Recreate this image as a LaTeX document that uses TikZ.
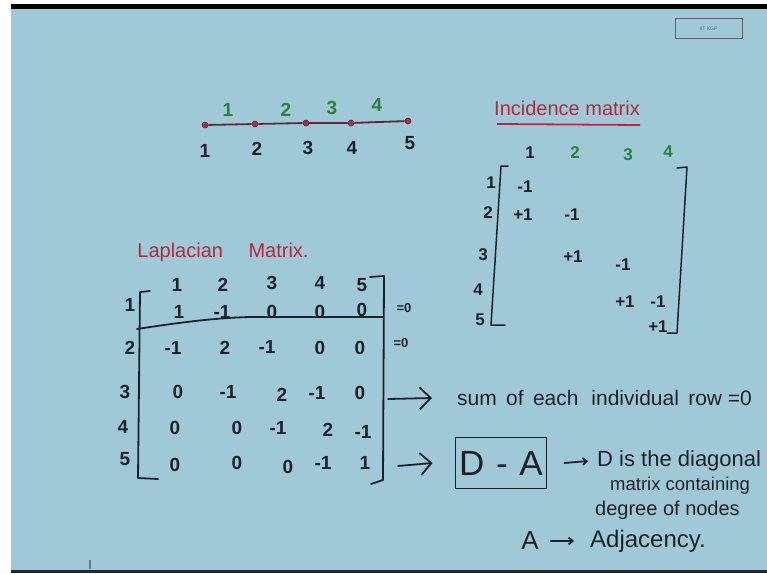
\documentclass[tikz,border=0pt]{standalone}
\usepackage{fontspec}
\setmainfont{Liberation Sans}
\usetikzlibrary{arrows.meta}
\definecolor{bg}{HTML}{A0C9D7}
\definecolor{ink}{HTML}{1A1F2C}
\definecolor{redink}{HTML}{B42A3C}
\definecolor{greenink}{HTML}{2F7F3C}
\definecolor{edgeink}{HTML}{5A2A35}
\begin{document}
\begin{tikzpicture}[x=1pt,y=-1pt,
  lbl/.style={inner sep=0pt,text=ink},
  gnum/.style={lbl,font=\fontsize{19}{19}\selectfont\bfseries},
  gedge/.style={lbl,text=greenink,font=\fontsize{19}{19}\selectfont\bfseries},
  lnum/.style={lbl,font=\fontsize{19}{19}\selectfont\bfseries},
  inum/.style={lbl,font=\fontsize{17}{17}\selectfont\bfseries},
  title/.style={lbl,text=redink,font=\fontsize{20}{20}\selectfont},
  note/.style={lbl},
  dot/.style={circle,fill=redink,draw=edgeink,line width=0.6pt,inner sep=0pt,minimum size=6pt},
  gline/.style={draw=edgeink,line width=1.8pt},
  pen/.style={draw=ink,line width=1.8pt,line cap=round,line join=round},
  bigarrow/.style={pen,-{Straight Barb[length=11pt,width=22pt,line width=1.8pt]}},
  smallarrow/.style={pen,-{Straight Barb[length=4pt,width=7pt,line width=1.8pt]}}]
\useasboundingbox (0,0) rectangle (767,573);
% background and frame
\fill[white] (0,0) rectangle (767,573);
\fill[bg] (11,9) rectangle (767,570);
\fill[black] (11,4) rectangle (767,9);
\fill[black!85] (11,570) rectangle (767,573);
% corner stamp
\node[draw=ink!70,line width=0.8pt,minimum width=67pt,minimum height=20pt,inner sep=0pt,
      text=ink!70,font=\fontsize{5}{6}\selectfont,align=right] (stamp) at (708.5,28) {\\IIT KGP};
% small tick at bottom left
\draw[ink!60,line width=1.2pt] (90,560) -- (90,569);

% ---------- path graph ----------
\node[dot] (v1) at (205,125) {};
\node[dot] (v2) at (255,124) {};
\node[dot] (v3) at (306,123) {};
\node[dot] (v4) at (351,123) {};
\node[dot] (v5) at (408,121) {};
\draw[gline] (v1) -- (v2);
\draw[gline] (v2) -- (v3);
\draw[gline] (v3) -- (v4);
\draw[gline] (v4) -- (v5);
\node[gnum] (n1) at (205,151) {1};
\node[gnum] (n2) at (257,149) {2};
\node[gnum] (n3) at (308,148) {3};
\node[gnum] (n4) at (352,148) {4};
\node[gnum] (n5) at (410,143) {5};
\node[gedge] (e1) at (228,110) {1};
\node[gedge] (e2) at (286,110) {2};
\node[gedge] (e3) at (332,108) {3};
\node[gedge] (e4) at (377,105) {4};

% ---------- incidence matrix ----------
\node[title] (inctitle) at (567,108) {Incidence matrix};
\draw[draw=redink,line width=1.8pt] (497,124) -- (640,125);
\node[inum] (ic1) at (530,153) {1};
\node[inum,text=greenink] (ic2) at (575,153) {2};
\node[inum,text=greenink] (ic3) at (628,155) {3};
\node[inum,text=greenink] (ic4) at (668,152) {4};
\node[inum] (ir1) at (491,183) {1};
\node[inum] (ir2) at (488,213) {2};
\node[inum] (ir3) at (483,255) {3};
\node[inum] (ir4) at (478,290) {4};
\node[inum] (ir5) at (480,320) {5};
\node[inum] (i11) at (525,187) {-1};
\node[inum] (i21) at (523,215) {+1};
\node[inum] (i22) at (572,215) {-1};
\node[inum] (i32) at (573,257) {+1};
\node[inum] (i33) at (623,265) {-1};
\node[inum] (i43) at (625,302) {+1};
\node[inum] (i44) at (658,302) {-1};
\node[inum] (i54) at (658,327) {+1};
\draw[pen,line width=1.5pt] (508,166) -- (501,166) -- (491,325) -- (505,325);
\draw[pen,line width=1.5pt] (677,168) -- (687,167) -- (677,333) -- (667,333);

% ---------- Laplacian matrix ----------
\node[title] (laptitle) at (223,252) {Laplacian \quad Matrix.};
% column headers
\node[lnum] (lc1) at (177,285) {1};
\node[lnum] (lc2) at (223,285) {2};
\node[lnum] (lc3) at (272,283) {3};
\node[lnum] (lc4) at (320,283) {4};
\node[lnum] (lc5) at (362,285) {5};
% row labels
\node[lnum] (lr1) at (130,305) {1};
\node[lnum] (lr2) at (130,348) {2};
\node[lnum] (lr3) at (125,392) {3};
\node[lnum] (lr4) at (123,427) {4};
\node[lnum] (lr5) at (125,459) {5};
% row 1
\node[lnum] (l11) at (179,312) {1};
\node[lnum] (l12) at (222,312) {-1};
\node[lnum] (l13) at (272,312) {0};
\node[lnum] (l14) at (320,312) {0};
\node[lnum] (l15) at (362,310) {0};
% row 2
\node[lnum] (l21) at (173,348) {-1};
\node[lnum] (l22) at (225,348) {2};
\node[lnum] (l23) at (267,347) {-1};
\node[lnum] (l24) at (320,348) {0};
\node[lnum] (l25) at (360,348) {0};
% row 3
\node[lnum] (l31) at (178,392) {0};
\node[lnum] (l32) at (228,392) {-1};
\node[lnum] (l33) at (282,395) {2};
\node[lnum] (l34) at (317,393) {-1};
\node[lnum] (l35) at (360,393) {0};
% row 4
\node[lnum] (l41) at (175,428) {0};
\node[lnum] (l42) at (237,428) {0};
\node[lnum] (l43) at (278,428) {-1};
\node[lnum] (l44) at (328,430) {2};
\node[lnum] (l45) at (363,432) {-1};
% row 5
\node[lnum] (l51) at (175,465) {0};
\node[lnum] (l52) at (237,463) {0};
\node[lnum] (l53) at (288,467) {0};
\node[lnum] (l54) at (323,463) {-1};
\node[lnum] (l55) at (365,463) {1};
% row sums
\node[lbl,font=\fontsize{13}{13}\selectfont\bfseries] (s1) at (404,308) {=0};
\node[lbl,font=\fontsize{13}{13}\selectfont\bfseries] (s2) at (401,343) {=0};
% brackets and separator
\draw[pen] (150,291) -- (140,292) -- (138,478) -- (158,479);
\draw[pen] (370,277) -- (384,276) -- (383,480) -- (371,484);
\draw[pen] (137,329) .. controls (170,324) and (210,318) .. (250,317) -- (383,317);

% ---------- notes ----------
\coordinate (arr1s) at (388,399);
\coordinate (arr2s) at (398,466);
\node[note,anchor=west,font=\fontsize{21}{21}\selectfont] (sumtext) at (457,398) {sum \,of \,each \,\,individual \,row =0};
\draw[bigarrow] (arr1s) -- ([xshift=-25pt]sumtext.west);
\node[draw=ink,line width=1.8pt,minimum width=91pt,minimum height=51pt,inner sep=0pt,
      text=ink,font=\fontsize{35}{35}\selectfont] (dma) at (501,463) {D\,\,-\,\,A};
\draw[bigarrow] (arr2s) -- ([xshift=-22pt]dma.west);
\node[note,anchor=west,font=\fontsize{22}{22}\selectfont] (dtext) at (597,461) {D is the diagonal};
\draw[smallarrow] ([xshift=17pt]dma.east) -- ([xshift=-9pt]dtext.west);
\node[note,anchor=west,font=\fontsize{18.5}{18.5}\selectfont] (mtext) at (610,486) {matrix containing};
\node[note,anchor=west,font=\fontsize{20}{20}\selectfont] (gtext) at (595,510) {degree of nodes};
\node[note,font=\fontsize{26}{26}\selectfont] (aA) at (530,541) {A};
\node[note,anchor=west,font=\fontsize{24}{24}\selectfont] (adj) at (590,541) {Adjacency.};
\draw[smallarrow] ([xshift=12pt]aA.east) -- ([xshift=-16pt]adj.west);
\end{tikzpicture}
\end{document}
